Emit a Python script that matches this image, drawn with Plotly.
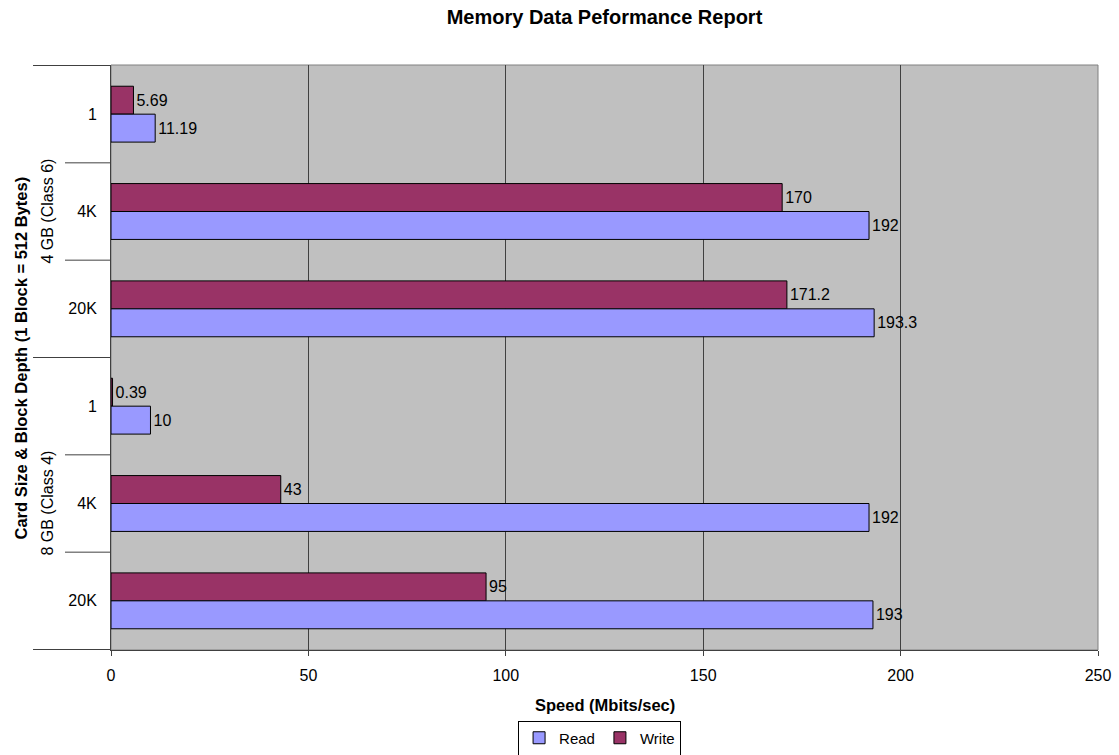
import plotly.graph_objects as go

# ---- data ----
groups = ["4 GB (Class 6)", "4 GB (Class 6)", "4 GB (Class 6)",
          "8 GB (Class 4)", "8 GB (Class 4)", "8 GB (Class 4)"]
depths = ["1", "4K", "20K", "1", "4K", "20K"]
read_vals = [11.19, 192, 193.3, 10, 192, 193]
write_vals = [5.69, 170, 171.2, 0.39, 43, 95]
x_ticks = [0, 50, 100, 150, 200, 250]

cats = [f"{g}|{d}" for g, d in zip(groups, depths)]

FONT = "Arial, Liberation Sans, sans-serif"
AX = "#404040"
FS = 16

fig = go.Figure()
fig.add_trace(go.Bar(
    name="Write", y=cats, x=write_vals, orientation="h", legendrank=2,
    marker=dict(color="#993366", line=dict(color="black", width=1)),
    text=[str(v) for v in write_vals], textposition="outside",
    textfont=dict(size=FS, color="black", family=FONT), cliponaxis=False,
    constraintext="none",
))
fig.add_trace(go.Bar(
    name="Read", y=cats, x=read_vals, orientation="h", legendrank=1,
    marker=dict(color="#9999FF", line=dict(color="black", width=1)),
    text=[str(v) for v in read_vals], textposition="outside",
    textfont=dict(size=FS, color="black", family=FONT), cliponaxis=False,
    constraintext="none",
))

shapes = []
n = len(cats)
shapes.append(dict(type="rect", xref="paper", yref="paper", x0=0, x1=1, y0=0, y1=1,
                   line=dict(color="#808080", width=1), layer="below"))
for i in range(n + 1):
    b = i - 0.5
    is_group = i in (0, 3, 6)
    x0 = -0.079 if is_group else -0.0466
    shapes.append(dict(type="line", xref="paper", yref="y", x0=x0, x1=0, y0=b, y1=b,
                       line=dict(color=AX, width=1)))

annotations = []
seen = []
for g in groups:
    if g in seen:
        continue
    seen.append(g)
    idx = [j for j, gg in enumerate(groups) if gg == g]
    mid = idx[len(idx) // 2]
    annotations.append(dict(text=g, xref="paper", yref="y", x=-0.0648, y=cats[mid],
                            textangle=-90, showarrow=False,
                            font=dict(size=FS, color="black", family=FONT),
                            xanchor="center", yanchor="middle"))
annotations.append(dict(text="<b>Card Size & Block Depth (1 Block = 512 Bytes)</b>",
                        xref="paper", yref="paper", x=-0.0912, y=0.5, textangle=-90,
                        showarrow=False, font=dict(size=16.5, color="black", family=FONT),
                        xanchor="center", yanchor="middle"))
annotations.append(dict(text="<b>Speed (Mbits/sec)</b>", xref="paper", yref="paper",
                        x=0.5, y=-0.094, showarrow=False,
                        font=dict(size=16.5, color="black", family=FONT),
                        xanchor="center", yanchor="middle"))

fig.update_layout(
    width=1119, height=755,
    margin=dict(l=111, r=21, t=65, b=105, autoexpand=False),
    paper_bgcolor="white", plot_bgcolor="#C0C0C0",
    barmode="group", bargap=0.426, bargroupgap=0,
    font=dict(family=FONT, size=FS, color="black"),
    title=dict(text="<b>Memory Data Peformance Report</b>", x=0.5, xref="paper",
               xanchor="center", y=1 - 17 / 755, yref="container", yanchor="middle",
               font=dict(size=20, family=FONT, color="black")),
    xaxis=dict(range=[0, 250], tickvals=x_ticks, ticktext=[str(t) for t in x_ticks],
               showgrid=True, gridcolor=AX, gridwidth=1, zeroline=False,
               showline=True, linecolor=AX, linewidth=1, automargin=False,
               ticks="outside", ticklen=5, tickcolor=AX, ticklabelstandoff=6,
               tickfont=dict(size=FS, family=FONT, color="black")),
    yaxis=dict(type="category", categoryorder="array", categoryarray=cats,
               autorange="reversed", tickmode="array", tickvals=cats, ticktext=depths,
               showgrid=False, zeroline=False, showline=True, linecolor=AX, linewidth=1,
               ticks="", ticklabelstandoff=10, automargin=False,
               tickfont=dict(size=FS, family=FONT, color="black")),
    legend=dict(orientation="h", x=0.495, xanchor="center", y=1 - 738 / 755,
                yref="container", yanchor="middle",
                bordercolor="black", borderwidth=1, bgcolor="white",
                font=dict(size=15, family=FONT, color="black"),
                itemwidth=30, tracegroupgap=0),
    shapes=shapes, annotations=annotations,
)

fig.write_html("out.html", config={"displayModeBar": False},
               post_script="document.body.style.margin='0';")
